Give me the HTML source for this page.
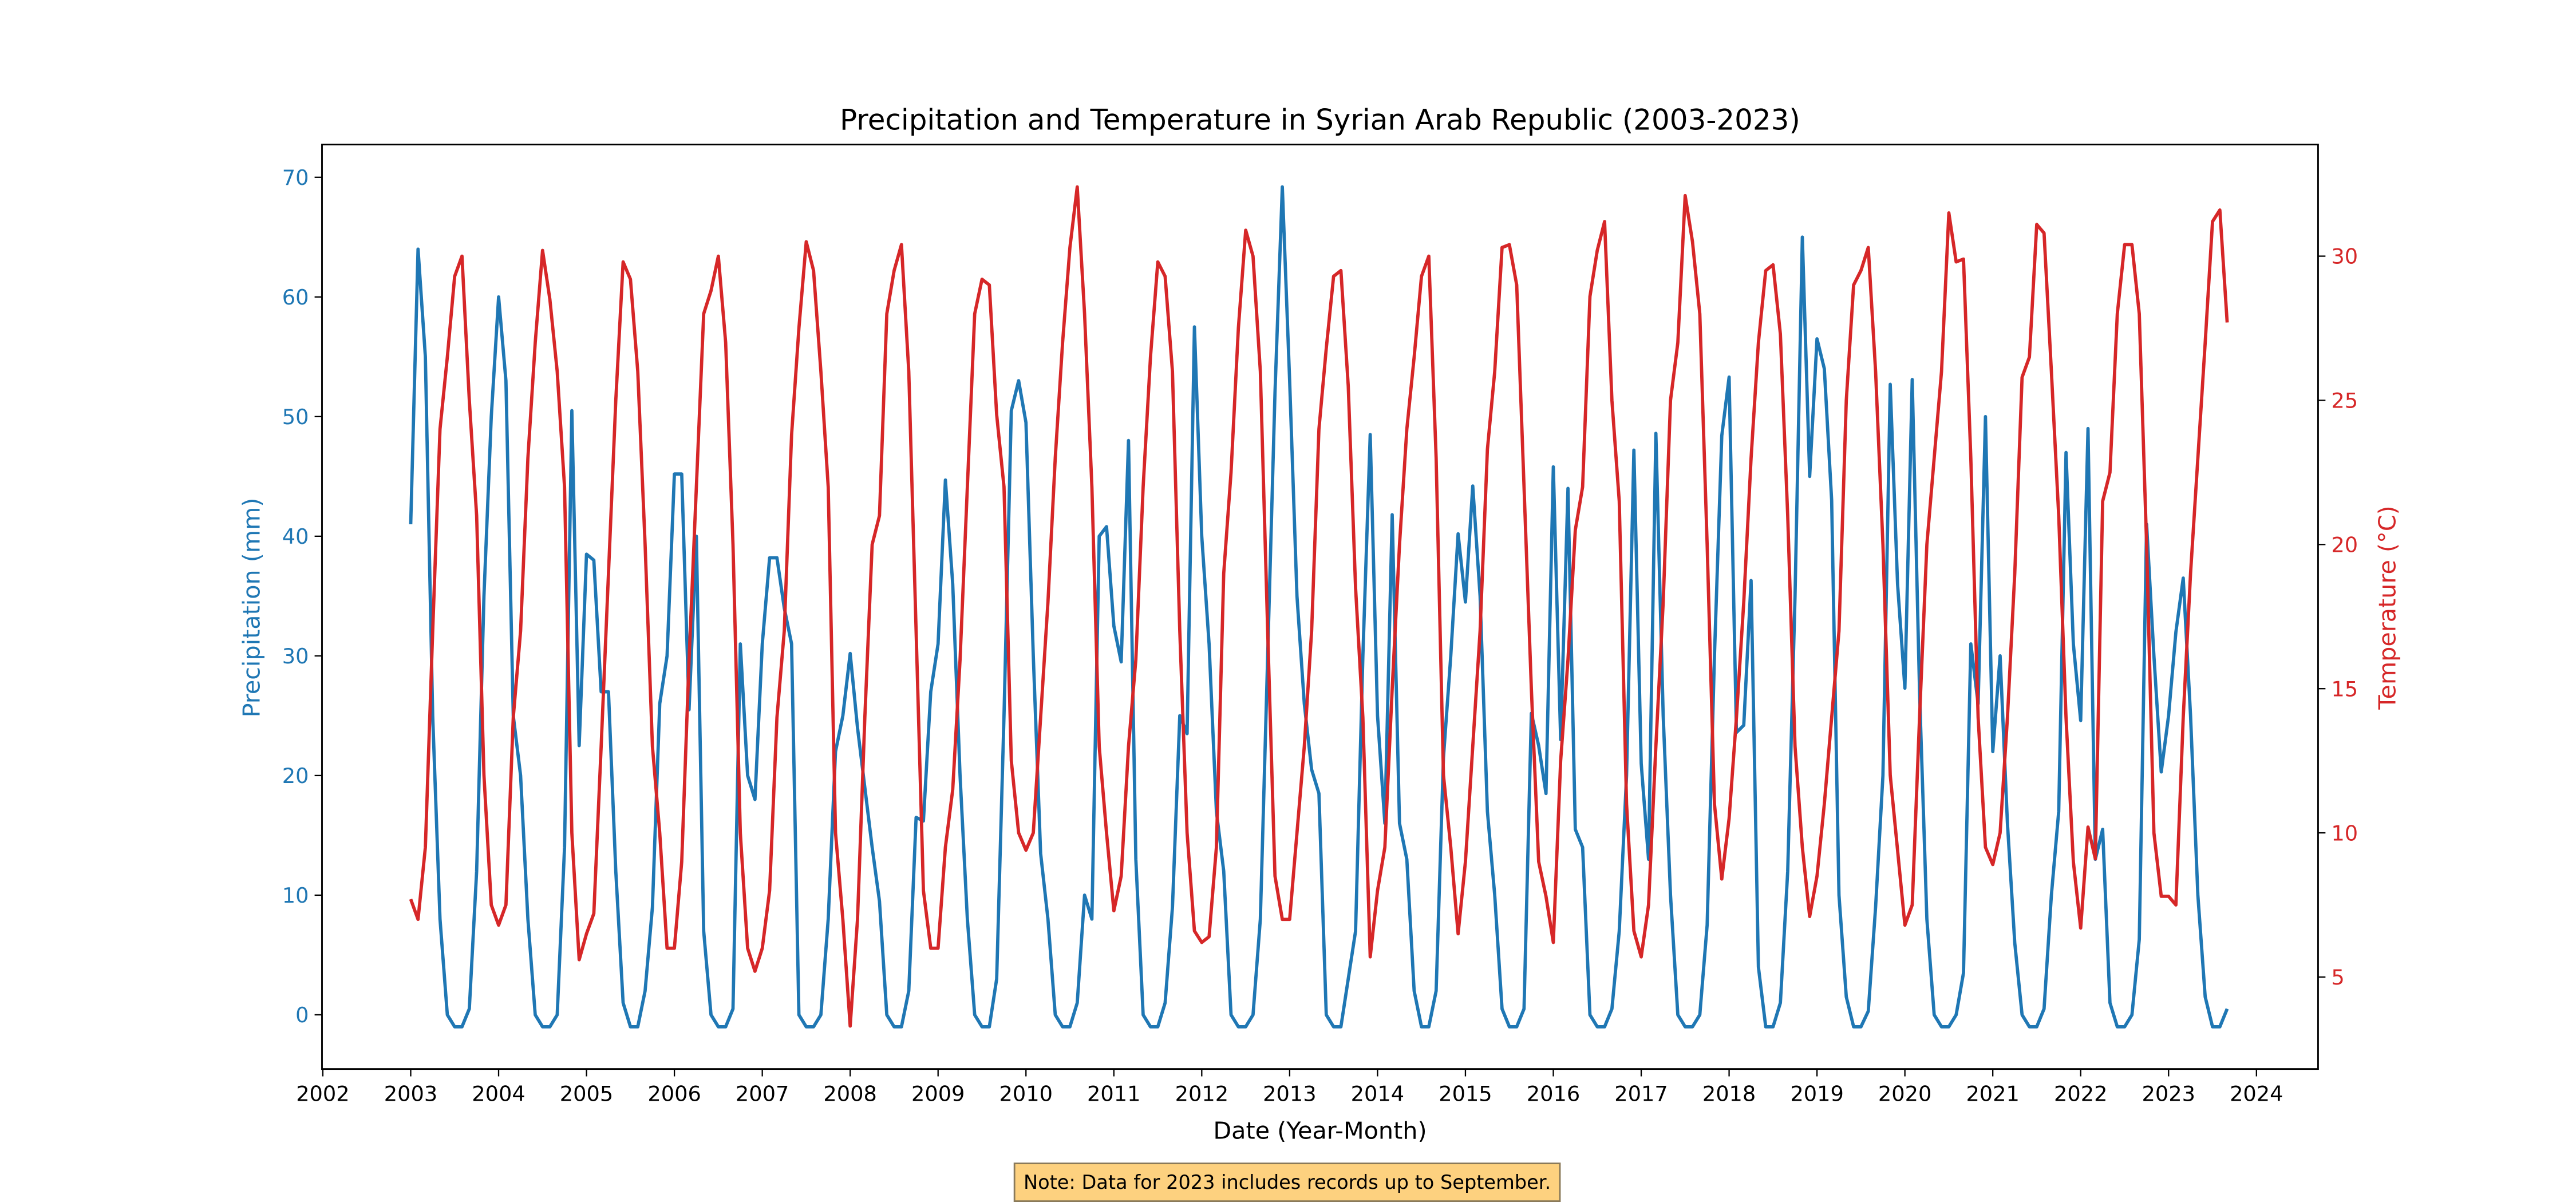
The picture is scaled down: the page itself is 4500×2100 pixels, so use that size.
<!DOCTYPE html>
<html><head><meta charset="utf-8"><style>
html,body{margin:0;padding:0;background:#fff;}
svg{display:block;font-family:"DejaVu Sans","Liberation Sans",sans-serif;}
</style></head><body>
<svg id="chart" width="4500" height="2100" viewBox="0 0 1568 732" preserveAspectRatio="none" xmlns="http://www.w3.org/2000/svg">
<rect x="0" y="0" width="1568" height="732" fill="#fff"/>
<text x="803.5" y="79" font-size="17.4" text-anchor="middle" fill="#000">Precipitation and Temperature in Syrian Arab Republic (2003-2023)</text>
<g id="plot"></g>
<rect x="196" y="88" width="1215" height="563" fill="none" stroke="#000" stroke-width="1"/>
<g id="xticks"></g>
<g id="lticks"></g>
<g id="rticks"></g>
<text x="803.5" y="693.5" font-size="14.4" text-anchor="middle" fill="#000">Date (Year-Month)</text>
<text x="0" y="0" font-size="14.4" text-anchor="middle" fill="#1f77b4" transform="translate(158,370) rotate(-90)">Precipitation (mm)</text>
<text x="0" y="0" font-size="14.4" text-anchor="middle" fill="#d62728" transform="translate(1458,370) rotate(-90)">Temperature (°C)</text>
<g>
<rect x="617.5" y="708.5" width="332" height="23" fill="#fdd17f" stroke="#8a7a5a" stroke-width="1"/>
<text x="783.5" y="724" font-size="11.7" text-anchor="middle" fill="#000">Note: Data for 2023 includes records up to September.</text>
</g>
</svg>
<script>
const startYear = 2003;
const precip = [
41,64,55,25,8,0,-1,-1,0.5,12,35,50,
60,53,25,20,8,0,-1,-1,0,14,50.5,22.5,
38.5,38,27,27,12,1,-1,-1,2,9,26,30,
45.2,45.2,25.5,40,7,0,-1,-1,0.5,31,20,18,
31,38.2,38.2,34,31,0,-1,-1,0,8,22,25,
30.2,24,19,14,9.5,0,-1,-1,2,16.5,16.2,27,
31,44.7,36,20,8,0,-1,-1,3,25,50.5,53,
49.5,30,13.5,8,0,-1,-1,1,10,8,40,40.8,
32.5,29.5,48,13,0,-1,-1,1,9,25,23.5,57.5,
40,31,17,12,0,-1,-1,0,8,30,52,69.2,
53,35,26,20.5,18.5,0,-1,-1,3,7,30,48.5,
25,16,41.8,16,13,2,-1,-1,2,21.5,30,40.2,
34.5,44.2,35,17,10,0.5,-1,-1,0.5,25.2,22.5,18.5,
45.8,23,44,15.5,14,0,-1,-1,0.5,7,20,47.2,
21,13,48.6,25,10,0,-1,-1,0,7.5,30,48.4,
53.3,23.6,24.2,36.3,4,-1,-1,1,12,35,65,45,
56.5,54,43,10,1.5,-1,-1,0.3,9,20,52.7,36,
27.3,53.1,27,8,0,-1,-1,0,3.5,31,26,50,
22,30,16,6,0,-1,-1,0.5,10,17,47,31,
24.6,49,13,15.5,1,-1,-1,0,6.3,41,30,20.3,
25,32,36.5,25,10,1.5,-1,-1,0.5];
const temp = [
7.7,7,9.5,17,24,26.5,29.3,30,25,21,12,7.5,
6.8,7.5,14,17,23,27,30.2,28.5,26,22,10,5.6,
6.5,7.2,13,19,25,29.8,29.2,26,20,13,10,6,
6,9,16,22,28,28.8,30,27,20,10,6,5.2,
6,8,14,17,23.8,27.5,30.5,29.5,26,22,10,7,
3.3,7,14,20,21,28,29.5,30.4,26,17,8,6,
6,9.5,11.5,16,22,28,29.2,29,24.5,22,12.5,10,
9.4,10,14,18,23,27,30.3,32.4,28,22,13,10,
7.3,8.5,13,16,22,26.5,29.8,29.3,26,17,10,6.6,
6.2,6.4,9.5,19,22.5,27.5,30.9,30,26,17,8.5,7,
7,10,13,17,24,26.8,29.3,29.5,25.5,18.5,14,5.7,
8,9.5,15,20,24,26.5,29.3,30,23,12,9.5,6.5,
9,13,17,23.3,26,30.3,30.4,29,22,15,9,7.8,
6.2,12.5,16,20.5,22,28.6,30.2,31.2,25,21.5,11,6.6,
5.7,7.5,13,18,25,27,32.1,30.5,28,20,11,8.4,
10.5,14,18,23,27,29.5,29.7,27.3,21,13,9.5,7.1,
8.5,11,14,17,25,29,29.5,30.3,26,20,12,9.4,
6.8,7.5,14,20,23,26,31.5,29.8,29.9,23,14,9.5,
8.9,10,14,19,25.8,26.5,31.1,30.8,26,21,14,9,
6.7,10.2,9.1,21.5,22.5,28,30.4,30.4,28,20,10,7.8,
7.8,7.5,14,19,23,27,31.2,31.6,27.7];
const xTickLabels = ["2002","2003","2004","2005","2006","2007","2008","2009","2010","2011","2012","2013","2014","2015","2016","2017","2018","2019","2020","2021","2022","2023","2024"];
const precipTicks = [0,10,20,30,40,50,60,70];
const tempTicks = [5,10,15,20,25,30];

const NS = "http://www.w3.org/2000/svg";
function xScale(yr){ return 250 + (yr - 2003) * 53.5; }
function yP(v){ return 618 - v * 7.286; }
function yT(t){ return 595 - (t - 5) * 17.56; }
function mk(tag, attrs, parent){ const e=document.createElementNS(NS,tag); for(const k in attrs) e.setAttribute(k,attrs[k]); parent.appendChild(e); return e; }

const plot=document.getElementById('plot');
function series(vals, yf, color, name){
  const d = vals.map((v,i)=>(i?'L':'M')+xScale(startYear+i/12).toFixed(2)+','+yf(v).toFixed(2)).join(' ');
  const p = mk('path',{d:d,fill:'none',stroke:color,'stroke-width':2,'stroke-linejoin':'round','stroke-linecap':'butt'},plot);
  
  
}
series(precip, yP, '#1f77b4', 'precipitation-line');
series(temp, yT, '#d62728', 'temperature-line');

const xg=document.getElementById('xticks');
xTickLabels.forEach(l=>{
  const x=xScale(+l);
  const t=mk('line',{x1:x,x2:x,y1:651,y2:655.5,stroke:'#000','stroke-width':0.8},xg);
  
  
  const tx=mk('text',{x:x,y:670.5,'font-size':12.8,'text-anchor':'middle',fill:'#000'},xg);
  tx.textContent=l;
  
  
});
const lg=document.getElementById('lticks');
precipTicks.forEach(v=>{
  const y=yP(v);
  const t=mk('line',{x1:191.5,x2:196,y1:y,y2:y,stroke:'#000','stroke-width':0.8},lg);
  
  
  const tx=mk('text',{x:188,y:y+4.6,'font-size':12.8,'text-anchor':'end',fill:'#1f77b4'},lg);
  tx.textContent=String(v);
  
  
});
const rg=document.getElementById('rticks');
tempTicks.forEach(v=>{
  const y=yT(v);
  const t=mk('line',{x1:1411,x2:1415.5,y1:y,y2:y,stroke:'#000','stroke-width':0.8},rg);
  
  
  const tx=mk('text',{x:1419,y:y+4.6,'font-size':12.8,'text-anchor':'start',fill:'#d62728'},rg);
  tx.textContent=String(v);
  
  
});
</script>
</body></html>
